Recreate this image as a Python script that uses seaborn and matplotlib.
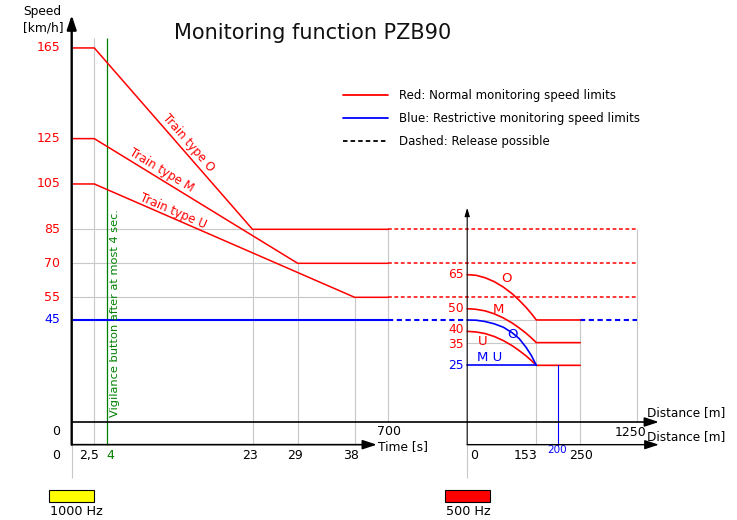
import numpy as np
import matplotlib
matplotlib.use("Agg")
import matplotlib.pyplot as plt
from matplotlib.lines import Line2D
from matplotlib.patches import Rectangle
import seaborn as sns

sns.set_theme(style="white")
plt.rcParams["font.family"] = ["DejaVu Sans"]
plt.rcParams["text.color"] = "black"

# ---------------- data ----------------
TRAIN_TYPES = ["O", "M", "U"]
START_SPEED = [165, 125, 105]        # km/h, upper limit at the 1000 Hz magnet
END_SPEED = [85, 70, 55]             # km/h, limit after time-based braking
END_TIME = [23, 29, 38]              # s
REACTION_TIME = 2.5                  # s
VIGILANCE_TIME = 4                   # s
RESTRICTIVE_SPEED = 45               # km/h
TIME_TICKS = [0, 2.5, 4, 23, 29, 38]
TIME_TICK_LABELS = ["0", "2,5", "4", "23", "29", "38"]
DIST_1000HZ_END = 700                # m
DIST_TOTAL = 1250                    # m

# 500 Hz section (distance behind the 500 Hz magnet)
CURVE_S = [0, 20, 40, 60, 80, 100, 115, 130, 142, 153]
CURVE_500 = {
    "O": [65, 64.7, 63.6, 61.9, 59.5, 56.5, 53.7, 50.6, 47.8, 45],
    "M": [50, 49.7, 49.0, 47.7, 45.9, 43.6, 41.5, 39.2, 37.1, 35],
    "U": [40, 39.7, 39.0, 37.7, 35.9, 33.6, 31.5, 29.2, 27.1, 25],
}
CURVE_500_O_RESTR = [45, 44.9, 44.3, 43.3, 41.8, 39.3, 36.8, 33.0, 29.3, 25]
RESTR_500_MU = 25
DIST_500_END = 250                   # m
DIST_500_RESTR_RELEASE = 200         # m
SPEED_500_TICKS = [65, 50, 40, 35, 25]

# ---------------- layout ----------------
PX_PER_M = 0.452
PX_PER_KMH = 2.267
ORIGIN_PX, ZERO_PY = 71.7, 422.0
W, H = 737, 520
POS_500HZ = 875                      # position of the 500 Hz magnet on the distance scale
LOW = -10                            # level of the lower (time) axis
TIME_AXIS_POS = [0, 50, 77, 400, 500, 626]   # time axis drawn on the distance scale

RED, BLUE, GREEN, GRID = "#ff0000", "#0000ff", "#008000", "#c8c8c8"
DASH = (0, (2.5, 1.7))


def t2x(t):
    return np.interp(t, TIME_TICKS, TIME_AXIS_POS)


fig = plt.figure(figsize=(W / 100, H / 100), dpi=100)
ax = fig.add_axes([0, 0, 1, 1])


def seg(x, y, color, lw=1.1, ls="-", z=3):
    sns.lineplot(x=np.asarray(x, float), y=np.asarray(y, float), color=color,
                 lw=lw, linestyle=ls, sort=False, estimator=None, ax=ax,
                 zorder=z, legend=False)


# grid lines
gkw = dict(color=GRID, lw=0.8, zorder=1)
ax.vlines(t2x(REACTION_TIME), LOW, 169.5, **gkw)
for t, v in zip(END_TIME, END_SPEED):
    ax.vlines(t2x(t), LOW, v, **gkw)
    ax.hlines(v, 0, t2x(t), **gkw)
ax.vlines([DIST_1000HZ_END, DIST_TOTAL], 0, max(END_SPEED), **gkw)
ax.vlines([0, POS_500HZ], -24.7, LOW, **gkw)
ax.vlines([POS_500HZ + CURVE_S[-1], POS_500HZ + DIST_500_END], LOW,
          RESTRICTIVE_SPEED, **gkw)
ax.hlines([RESTRICTIVE_SPEED, CURVE_500["M"][-1]], POS_500HZ,
          POS_500HZ + CURVE_S[-1], **gkw)

# vigilance line
ax.vlines(t2x(VIGILANCE_TIME), LOW, 169.5, color=GREEN, lw=0.9, zorder=2)

# 1000 Hz monitoring curves
for v0, v1, t1 in zip(START_SPEED, END_SPEED, END_TIME):
    seg([0, t2x(REACTION_TIME), t2x(t1), DIST_1000HZ_END], [v0, v0, v1, v1], RED)
    seg([DIST_1000HZ_END, DIST_TOTAL], [v1, v1], RED, ls=DASH)
seg([0, DIST_1000HZ_END], [RESTRICTIVE_SPEED] * 2, BLUE, lw=1.5)
seg([DIST_1000HZ_END, POS_500HZ], [RESTRICTIVE_SPEED] * 2, BLUE, lw=1.5, ls=DASH)
seg([POS_500HZ + DIST_500_END, DIST_TOTAL], [RESTRICTIVE_SPEED] * 2, BLUE,
    lw=1.5, ls=DASH)

# 500 Hz monitoring curves
for k in TRAIN_TYPES:
    v = CURVE_500[k]
    seg(np.r_[CURVE_S, DIST_500_END] + POS_500HZ, v + [v[-1]], RED, lw=1.2)
seg(np.asarray(CURVE_S) + POS_500HZ, CURVE_500_O_RESTR, BLUE, lw=1.2)
seg([POS_500HZ, POS_500HZ + CURVE_S[-1]], [RESTR_500_MU] * 2, BLUE, lw=1.2)
seg([POS_500HZ + DIST_500_RESTR_RELEASE] * 2, [RESTR_500_MU, LOW], BLUE, lw=0.8)

# axes drawn as arrows
def arrow(x0, y0, x1, y1, lw, hl, hw):
    ax.annotate("", xy=(x1, y1), xytext=(x0, y0),
                arrowprops=dict(arrowstyle=f"-|>,head_length={hl},head_width={hw}",
                                lw=lw, color="black", shrinkA=0, shrinkB=0,
                                mutation_scale=10), zorder=5)

arrow(0, LOW, 0, 179.5, 1.7, 0.85, 0.28)
arrow(0, 0, 1299, 0, 1.2, 0.85, 0.28)
arrow(0, LOW, 675, LOW, 1.2, 0.85, 0.28)
arrow(POS_500HZ, LOW, 1299, LOW, 1.0, 0.85, 0.28)
arrow(POS_500HZ, LOW, POS_500HZ, 94.5, 0.8, 0.5, 0.15)

# texts
FS = 9
ax.text(533.8, 168.8, "Monitoring function PZB90", fontsize=15, ha="center",
        va="baseline", color="#111111")
ax.text(-107.7, 181.0, "Speed", fontsize=8.8, va="center", ha="left")
ax.text(-107.7, 173.7, "[km/h]", fontsize=8.8, va="center", ha="left")
for v in START_SPEED + END_SPEED:
    ax.text(-24.8, v, str(v), color=RED, fontsize=FS, ha="right", va="center")
ax.text(-24.8, RESTRICTIVE_SPEED, str(RESTRICTIVE_SPEED), color=BLUE, fontsize=FS,
        ha="right", va="center")
ax.text(-24.8, -4.4, "0", fontsize=FS, ha="right", va="center")

# time axis labels
time_label_x = [-24.8, 38.3, 84.6, 394.5, 493.0, 618.0]
for lbl, xx in zip(TIME_TICK_LABELS, time_label_x):
    ha = "right" if lbl == "0" else "center"
    ax.text(xx, -14.6, lbl, fontsize=FS, ha=ha, va="center",
            color=GREEN if lbl == "4" else "black")
ax.text(677.4, -10.9, "Time [s]", fontsize=8.8, ha="left", va="center")
ax.text(703, -4.4, str(DIST_1000HZ_END), fontsize=FS, ha="center", va="center")
ax.text(1237, -4.7, str(DIST_TOTAL), fontsize=FS, ha="center", va="center")
ax.text(1272.8, 4.0, "Distance [m]", fontsize=8.7, ha="left", va="center")
ax.text(1272.8, -6.2, "Distance [m]", fontsize=8.7, ha="left", va="center")

# 500 Hz distance labels
ax.text(POS_500HZ + 16, -14.6, "0", fontsize=FS, ha="center", va="center")
ax.text(POS_500HZ + 128, -14.6, "153", fontsize=FS, ha="center", va="center")
ax.text(POS_500HZ + 251, -14.6, "250", fontsize=FS, ha="center", va="center")
ax.text(POS_500HZ + 199, -12.4, "200", fontsize=7.5, ha="center", va="center",
        color=BLUE)
label_nudge = {40: 1.0, 35: -0.9}
for v in SPEED_500_TICKS:
    ax.text(POS_500HZ - 7, v + label_nudge.get(v, 0), str(v), fontsize=8.8,
            ha="right", va="center", color=BLUE if v == RESTR_500_MU else RED)
ax.text(POS_500HZ + 87, 63.4, "O", color=RED, fontsize=9.5, ha="center", va="center")
ax.text(POS_500HZ + 69, 49.7, "M", color=RED, fontsize=9.5, ha="center", va="center")
ax.text(POS_500HZ + 35, 35.4, "U", color=RED, fontsize=9.5, ha="center", va="center")
ax.text(POS_500HZ + 100, 38.4, "O", color=BLUE, fontsize=9.5, ha="center", va="center")
ax.text(POS_500HZ + 50, 28.5, "M U", color=BLUE, fontsize=9.5, ha="center", va="center")

# train type labels along the braking lines
for k, (xx, yy, rot) in zip(TRAIN_TYPES, [(257.7, 123.1, -49.0),
                                           (197.6, 111.1, -31.2),
                                           (224.0, 93.1, -23.5)]):
    ax.text(xx, yy, f"Train type {k}", color=RED, fontsize=8.5, rotation=rot,
            rotation_mode="anchor", ha="center", va="center")

ax.text(96, 47.9, "Vigilance button after at most 4 sec.", color=GREEN,
        fontsize=8.2, rotation=90, ha="center", va="center")

# magnet markers
for x0, col, lbl in [(0, "#ffff00", "1000 Hz"), (POS_500HZ, RED, "500 Hz")]:
    ax.add_patch(Rectangle((x0 - 50, -35.2), 100, 5.2, facecolor=col,
                           edgecolor="black", lw=0.8, zorder=4))
    ax.text(x0 - 48, -39.6, lbl, fontsize=9.2, ha="left", va="center")

# legend
handles = [Line2D([], [], color=RED, lw=1.3),
           Line2D([], [], color=BLUE, lw=1.3),
           Line2D([], [], color="black", lw=1.3, ls=DASH)]
labels = ["Red: Normal monitoring speed limits",
          "Blue: Restrictive monitoring speed limits",
          "Dashed: Release possible"]
leg = ax.legend(handles, labels, loc="upper left",
                bbox_to_anchor=(343 / W, 1 - 89.5 / H),
                bbox_transform=fig.transFigure, frameon=False, fontsize=8.5,
                handlelength=3.8, handletextpad=0.93, borderpad=0,
                borderaxespad=0, labelspacing=0.82)
for txt in leg.get_texts():
    txt.set_color("black")

ax.set_xlim(-ORIGIN_PX / PX_PER_M, (W - ORIGIN_PX) / PX_PER_M)
ax.set_ylim((ZERO_PY - H) / PX_PER_KMH, ZERO_PY / PX_PER_KMH)
ax.set_axis_off()

fig.savefig("out.png", dpi=100, facecolor="white")
